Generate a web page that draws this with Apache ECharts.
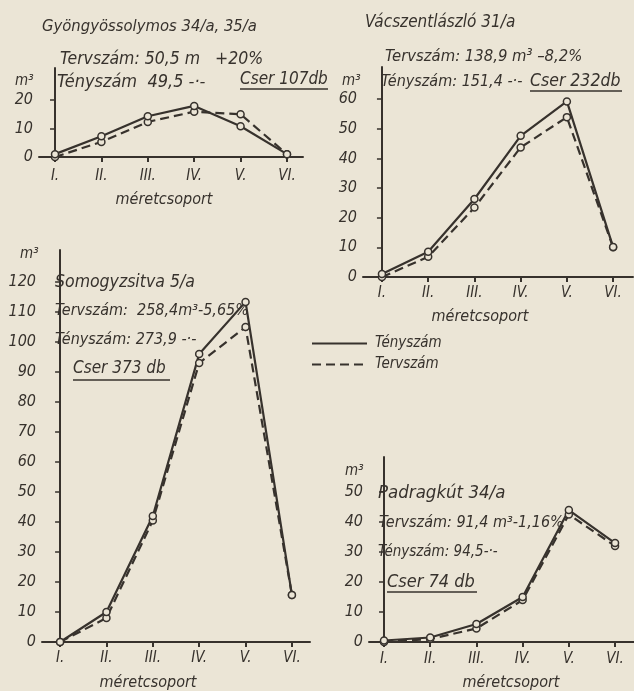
<!DOCTYPE html>
<html><head><meta charset="utf-8">
<script src="https://cdn.jsdelivr.net/npm/echarts@6/dist/echarts.min.js"></script>
<style>html,body{margin:0;padding:0;background:#ebe5d6}#c{width:634px;height:691px}</style>
</head><body><div id="c"></div>
<script>
// ---- data ----
const categories = ['I.', 'II.', 'III.', 'IV.', 'V.', 'VI.'];
const seriesNames = ['Tényszám', 'Tervszám'];

const gyongyosTeny = [1, 7.3, 14.3, 17.9, 10.8, 1];
const gyongyosTerv = [0, 5.3, 12.3, 15.9, 15, 1];
const vacTeny = [1, 8.5, 26.3, 47.6, 59.2, 10.1];
const vacTerv = [0, 6.8, 23.4, 43.7, 53.9, 10];
const somogyTeny = [0, 10, 42, 96, 113.4, 15.7];
const somogyTerv = [0, 8, 40.5, 93, 105, 15.7];
const padragTeny = [0.5, 1.5, 6, 15, 44, 33];
const padragTerv = [0, 1, 4.5, 14, 42.5, 32];

const yTicks1 = [0, 10, 20];
const yTicks2 = [0, 10, 20, 30, 40, 50, 60];
const yTicks3 = [0, 10, 20, 30, 40, 50, 60, 70, 80, 90, 100, 110, 120];
const yTicks4 = [0, 10, 20, 30, 40, 50];

const titles = ['Gyöngyössolymos 34/a, 35/a', 'Vácszentlászló 31/a', 'Somogyzsitva 5/a', 'Padragkút 34/a'];
const tervLabels = ['Tervszám: 50,5 m   +20%', 'Tervszám: 138,9 m³ –8,2%', 'Tervszám:  258,4m³-5,65%', 'Tervszám: 91,4 m³-1,16%'];
const tenyLabels = ['Tényszám  49,5 -·-', 'Tényszám: 151,4 -·-', 'Tényszám: 273,9 -·-', 'Tényszám: 94,5-·-'];
const cserLabels = ['Cser 107db', 'Cser 232db', 'Cser 373 db', 'Cser 74 db'];
const yUnit = 'm³';
const xName = 'méretcsoport';

// ---- layout / style ----
const INK = '#37322d';
const BG = '#ebe5d6';
const FONT = "'Liberation Sans Narrow', 'DejaVu Sans Condensed', sans-serif";

const panels = [
  { teny: gyongyosTeny, terv: gyongyosTerv, ticks: yTicks1, left: 39, top: 68, width: 264, height: 89, xmin: -0.345, xmax: 5.345, ymax: 31.2, lblMargin: 12 },
  { teny: vacTeny, terv: vacTerv, ticks: yTicks2, left: 363, top: 67, width: 270, height: 210, xmin: -0.41, xmax: 5.43, ymax: 70.8, lblMargin: 9 },
  { teny: somogyTeny, terv: somogyTerv, ticks: yTicks3, left: 42, top: 250, width: 268, height: 392, xmin: -0.39, xmax: 5.39, ymax: 130.7, lblMargin: 9 },
  { teny: padragTeny, terv: padragTerv, ticks: yTicks4, left: 369, top: 457, width: 265, height: 185, xmin: -0.325, xmax: 5.41, ymax: 61.7, lblMargin: 10 }
];

const textPos = [
  { title: [42, 27, 16.5], terv: [60, 59, 17.5], teny: [57, 82, 18], cser: [240, 80, 17], cserW: 88, ul: 89, unit: [15, 81], xname: [164, 200] },
  { title: [365, 23, 17], terv: [385, 57, 16.5], teny: [381, 82, 16], cser: [530, 81, 17.5], cserW: 92, ul: 91, unit: [342, 81], xname: [480, 317] },
  { title: [55, 282, 17.5], terv: [55, 311, 16], teny: [55, 340, 16], cser: [73, 369, 17], cserW: 97, ul: 380, unit: [20, 254], xname: [148, 683] },
  { title: [378, 493, 18.5], terv: [379, 523, 16], teny: [378, 552, 15], cser: [387, 582, 18], cserW: 90, ul: 592, unit: [345, 471], xname: [511, 683] }
];

const xIdx = [0, 1, 2, 3, 4, 5];
const grid = [], xAxis = [], yAxis = [], series = [], graphic = [];

panels.forEach((p, i) => {
  grid.push({ left: p.left, top: p.top, width: p.width, height: p.height, outerBoundsMode: 'none' });
  xAxis.push({
    gridIndex: i, type: 'value', min: p.xmin, max: p.xmax,
    axisLine: { show: true, onZero: false, lineStyle: { color: INK, width: 2 } },
    axisTick: { show: true, length: 5, customValues: xIdx, lineStyle: { color: INK, width: 2 } },
    axisLabel: { customValues: xIdx, formatter: v => categories[Math.round(v)], color: INK, fontFamily: FONT, fontStyle: 'italic', fontSize: 15, margin: p.lblMargin },
    splitLine: { show: false }
  });
  yAxis.push({
    gridIndex: i, type: 'value', min: 0, max: p.ymax,
    axisLine: { show: true, lineStyle: { color: INK, width: 2 } },
    axisTick: { show: true, length: 5, customValues: p.ticks, lineStyle: { color: INK, width: 1.5 } },
    axisLabel: { customValues: p.ticks, color: INK, fontFamily: FONT, fontStyle: 'italic', fontSize: 16, margin: 6 },
    splitLine: { show: false }
  });
  [[p.terv, seriesNames[1], 'dashed'], [p.teny, seriesNames[0], 'solid']].forEach(([vals, name, type]) => {
    series.push({
      type: 'line', name, xAxisIndex: i, yAxisIndex: i,
      data: vals.map((v, k) => [k, v]),
      symbol: 'circle', symbolSize: 7,
      itemStyle: { color: BG, borderColor: INK, borderWidth: 1.5 },
      lineStyle: { color: INK, width: 2.2, type: type === 'dashed' ? [9, 5] : 'solid' },
      emphasis: { disabled: true }, animation: false
    });
  });
  const tp = textPos[i];
  const ts = (x, y, txt, size) => ({ type: 'text', x, y, style: { text: txt, fill: INK, font: 'italic ' + size + 'px ' + FONT, verticalAlign: 'middle' } });
  graphic.push(ts(tp.title[0], tp.title[1], titles[i], tp.title[2]));
  graphic.push(ts(tp.terv[0], tp.terv[1], tervLabels[i], tp.terv[2]));
  graphic.push(ts(tp.teny[0], tp.teny[1], tenyLabels[i], tp.teny[2]));
  graphic.push(ts(tp.cser[0], tp.cser[1], cserLabels[i], tp.cser[2]));
  graphic.push({ type: 'line', shape: { x1: tp.cser[0], y1: tp.ul, x2: tp.cser[0] + tp.cserW, y2: tp.ul }, style: { stroke: INK, lineWidth: 1.5 } });
  graphic.push(ts(tp.unit[0], tp.unit[1], yUnit, 15));
  graphic.push({ type: 'text', x: tp.xname[0], y: tp.xname[1], style: { text: xName, fill: INK, font: 'italic 16px ' + FONT, align: 'center', verticalAlign: 'middle' } });
});

const chart = echarts.init(document.getElementById('c'), null, { renderer: 'canvas' });
chart.setOption({
  backgroundColor: BG,
  animation: false,
  grid, xAxis, yAxis, series, graphic,
  legend: {
    data: seriesNames, orient: 'vertical', left: 306, top: 331,
    itemWidth: 55, itemHeight: 14, itemGap: 6,
    itemStyle: { opacity: 0 },
    textStyle: { color: INK, fontFamily: FONT, fontStyle: 'italic', fontSize: 15, padding: [0, 0, 0, 3] },
    selectedMode: false
  }
});
</script></body></html>
